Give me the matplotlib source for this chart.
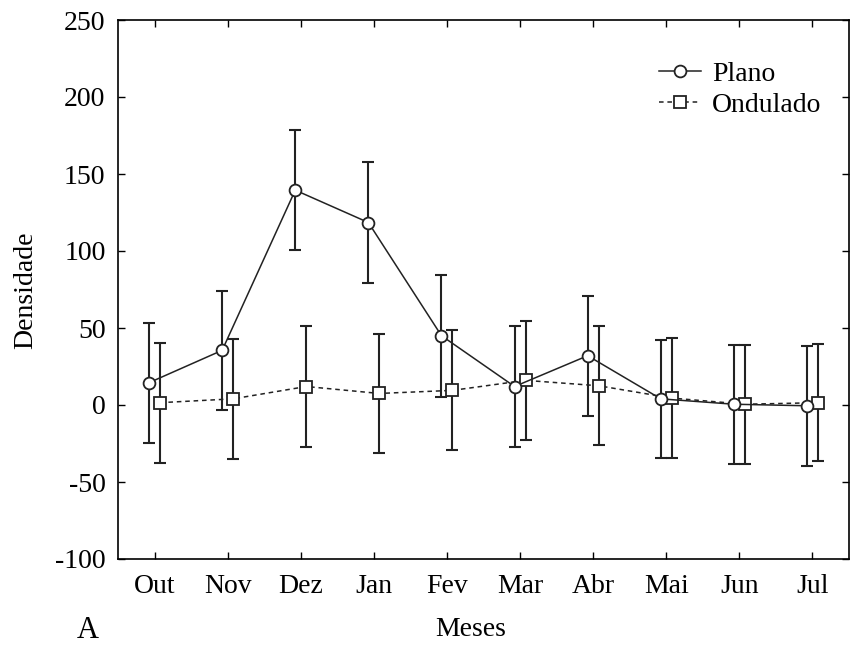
import numpy as np
import matplotlib.pyplot as plt

meses = ['Out', 'Nov', 'Dez', 'Jan', 'Fev', 'Mar', 'Abr', 'Mai', 'Jun', 'Jul']
plano = [14.5, 35.5, 139.5, 118.5, 45, 12, 32, 4, 0.5, -0.5]
plano_err = [39, 38.5, 39, 39, 39.5, 39, 39, 38.5, 38.5, 39]
ondulado = [1.5, 4, 12, 7.5, 9.5, 16, 12.5, 4.5, 0.5, 1.5]
ondulado_err = [39, 39, 39, 38.5, 39, 38.5, 38.5, 39, 38.5, 38]

plt.rcParams['font.family'] = ['Liberation Serif', 'DejaVu Serif']
plt.rcParams['font.size'] = 20
plt.rcParams['axes.unicode_minus'] = False

fig = plt.figure(figsize=(8.51, 6.46), dpi=100)
ax = fig.add_axes([118 / 851, 1 - 559 / 646, 731 / 851, 539 / 646])

x = np.arange(1, len(meses) + 1)
xp = x - 0.075
xo = x + 0.075

ax.errorbar(xp, plano, yerr=plano_err, fmt='none', ecolor='#222222',
            elinewidth=1.5, capsize=4.5, capthick=1.5, zorder=2)
ax.errorbar(xo, ondulado, yerr=ondulado_err, fmt='none', ecolor='#222222',
            elinewidth=1.5, capsize=4.5, capthick=1.5, zorder=2)

ax.plot(xp, plano, '-', color='#222222', lw=1.1, marker='o', ms=8.5,
        mfc='white', mec='#222222', mew=1.3, label='Plano', zorder=4)
ax.plot(xo, ondulado, '--', color='#222222', lw=1.1, dashes=(3, 2.5), marker='s', ms=8.5,
        mfc='white', mec='#222222', mew=1.3, label='Ondulado', zorder=3)

ax.set_xlim(0.5, 10.5)
ax.set_ylim(-100, 250)
ax.set_xticks(x)
ax.set_xticklabels(meses)
ax.set_yticks(np.arange(-100, 251, 50))
ax.tick_params(direction='in', length=5, width=1, top=True, right=True, pad=9)
ax.tick_params(axis='x', pad=11)
for s in ax.spines.values():
    s.set_linewidth(1.2)

ax.legend(loc='upper left', bbox_to_anchor=(0.71, 0.965), frameon=False,
          handlelength=1.5, handletextpad=0.4, labelspacing=0.2, borderpad=0.3)

fig.text(26 / 851, 1 - 290 / 646, 'Densidade', rotation=90, ha='center', va='center')
fig.text(471 / 851, 1 - 630 / 646, 'Meses', ha='center', va='center')
fig.text(88 / 851, 1 - 630 / 646, 'A', ha='center', va='center', fontsize=22)

fig.savefig('out.png', dpi=100)
